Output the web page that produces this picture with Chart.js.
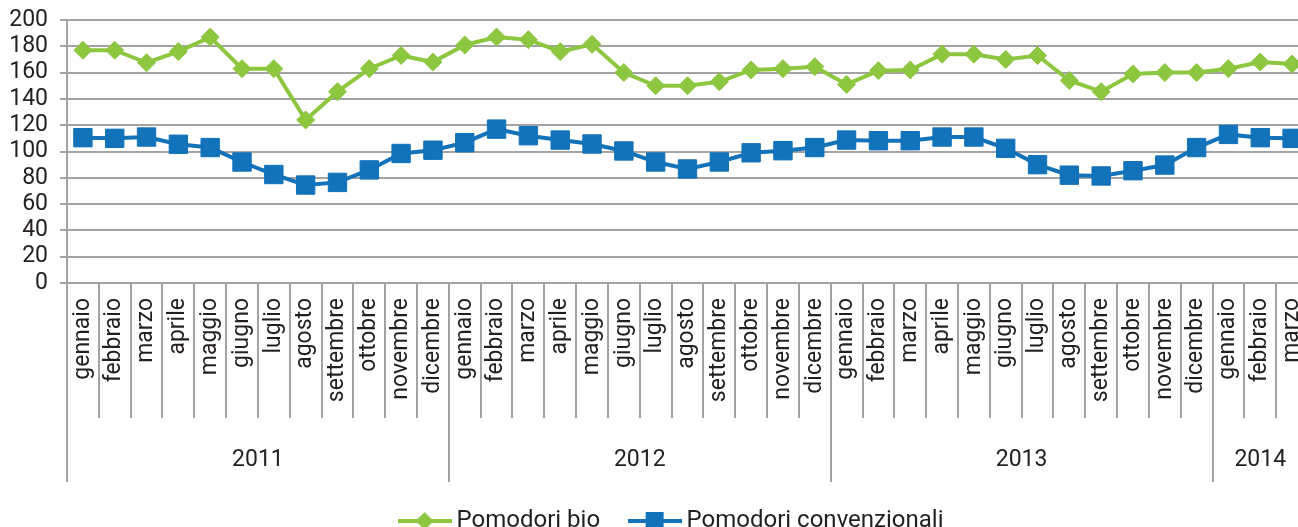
<!DOCTYPE html>
<html>
<head>
<meta charset="utf-8">
<script src="https://cdn.jsdelivr.net/npm/chart.js@4.4.1/dist/chart.umd.min.js"></script>
<style>
  html, body { margin: 0; padding: 0; overflow: hidden; background: #fff; }
</style>
</head>
<body>
<canvas id="prezzi" width="1340" height="543"></canvas>
<script>
const monthNames = ["gennaio", "febbraio", "marzo", "aprile", "maggio", "giugno", "luglio", "agosto", "settembre", "ottobre", "novembre", "dicembre"];
const years = ["2011", "2012", "2013", "2014"];
const monthsInYear = [12, 12, 12, 3];

const bio = [177, 177, 167.5, 176, 187, 163, 163, 124, 145.5, 163, 173, 168,
  181, 187, 185, 176, 181.5, 160, 150, 150, 153, 162, 163, 164.5,
  151, 161.5, 162, 174, 174, 170, 173, 154, 145.5, 159, 160, 160,
  163, 168, 166.5];
const convenzionali = [110.5, 110, 111, 105.5, 103, 92, 82.5, 74.5, 76.5, 86, 98.5, 101,
  106.7, 117, 112, 108.7, 105.7, 100.4, 92, 86.7, 92, 99, 100.6, 103,
  108.7, 108.2, 108.2, 111, 111, 102.4, 90, 82, 81.4, 85.4, 89.7, 103,
  113, 110.5, 110];

const yMin = 0, yMax = 200, yStep = 20;

const verde = "#8DC63F";
const blu = "#1272BA";
const grigio = "#A3A3A3";
const testo = "#231F20";

// etichette dei mesi, anno per anno
const labels = [];
monthsInYear.forEach(n => labels.push(...monthNames.slice(0, n)));

// separatori e centri degli anni sull'asse secondario
const yearBounds = [-0.5];
const yearCenters = [];
monthsInYear.forEach(n => {
  const start = yearBounds[yearBounds.length - 1];
  yearCenters.push(start + n / 2);
  yearBounds.push(start + n);
});
const yearTicks = yearBounds.slice(0, -1).concat(yearCenters).sort((a, b) => a - b);

// icona della legenda: linea con il marcatore al centro, come in Excel
function legendIcon(color, shape) {
  const c = document.createElement("canvas");
  c.width = 54; c.height = 24;
  const g = c.getContext("2d");
  g.strokeStyle = color; g.fillStyle = color; g.lineWidth = 4;
  g.beginPath(); g.moveTo(0, 12); g.lineTo(54, 12); g.stroke();
  g.beginPath();
  if (shape === "diamond") {
    g.moveTo(27, 3); g.lineTo(36, 12); g.lineTo(27, 21); g.lineTo(18, 12);
  } else {
    g.rect(18, 3, 18, 18);
  }
  g.closePath(); g.fill();
  return c;
}
const icons = [legendIcon(verde, "diamond"), legendIcon(blu, "square")];

const font = { family: "Roboto", size: 23 };

const chart = new Chart(document.getElementById("prezzi"), {
  type: "line",
  data: {
    labels: labels,
    datasets: [
      {
        label: "Pomodori bio",
        data: bio,
        xAxisID: "x",
        borderColor: verde,
        backgroundColor: verde,
        borderWidth: 4,
        pointStyle: "rectRot",
        pointRadius: 9,
        pointBorderWidth: 1,
        tension: 0
      },
      {
        label: "Pomodori convenzionali",
        data: convenzionali,
        xAxisID: "x",
        borderColor: blu,
        backgroundColor: blu,
        borderWidth: 4,
        pointStyle: "rect",
        pointRadius: 13,
        pointBorderWidth: 1,
        tension: 0
      }
    ]
  },
  options: {
    responsive: false,
    animation: false,
    layout: { padding: { left: 8, right: 0, top: 20, bottom: 0 } },
    scales: {
      x: {
        type: "category",
        offset: true,
        grid: { offset: true, drawOnChartArea: false, tickLength: 135, color: grigio, lineWidth: 2 },
        border: { color: grigio, width: 2 },
        ticks: { autoSkip: false, minRotation: 90, maxRotation: 90, padding: -120, color: testo, font: font },
        afterFit: s => { s.height = 135; }
      },
      x2: {
        type: "linear",
        position: "bottom",
        min: yearBounds[0],
        max: labels.length - 0.5,
        afterBuildTicks: s => { s.ticks = yearTicks.map(v => ({ value: v })); },
        grid: {
          drawOnChartArea: false,
          tickLength: 64,
          lineWidth: 2,
          color: ctx => (ctx.tick && yearBounds.includes(ctx.tick.value)) ? grigio : "rgba(0,0,0,0)"
        },
        border: { display: false },
        ticks: {
          autoSkip: false,
          maxRotation: 0,
          padding: -36,
          color: testo,
          font: font,
          callback: v => {
            const i = yearCenters.indexOf(v);
            return i >= 0 ? years[i] : "";
          }
        },
        afterFit: s => { s.height = 56.5; }
      },
      y: {
        min: yMin,
        max: yMax,
        ticks: { stepSize: yStep, autoSkip: false, padding: 12, color: testo, font: font },
        grid: { color: grigio, lineWidth: 2, tickLength: 7 },
        border: { color: grigio, width: 2 },
        afterFit: s => { s.width = 59; s.paddingTop = 0; }
      },
      // asse vuoto a destra: solo spazio, per centrare la legenda come nell'originale
      y2: {
        position: "right",
        min: yMin,
        max: yMax,
        grid: { display: false },
        border: { display: false },
        ticks: { display: false },
        afterFit: s => { s.width = 32; }
      }
    },
    plugins: {
      tooltip: { enabled: false },
      legend: {
        position: "bottom",
        labels: {
          usePointStyle: true,
          pointStyleWidth: 40,
          padding: 34.5,
          color: testo,
          font: { family: "Roboto", size: 24 },
          generateLabels: c => {
            const items = Chart.defaults.plugins.legend.labels.generateLabels(c);
            items.forEach((it, i) => { it.pointStyle = icons[i]; });
            return items;
          }
        }
      }
    }
  }
});
</script>
</body>
</html>
